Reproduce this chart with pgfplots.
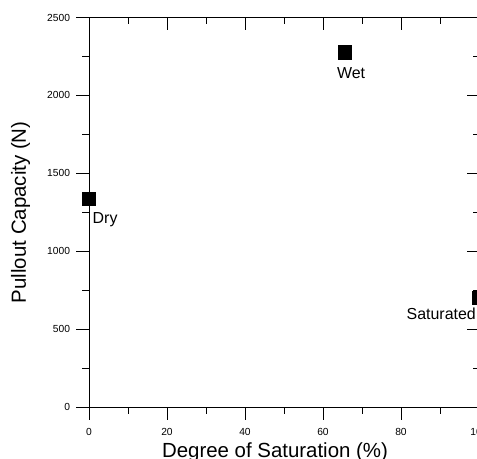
\documentclass[border=0pt]{standalone}
\usepackage{pgfplots}
\pgfplotsset{compat=1.18}
\usepackage{fontspec}
\setmainfont{Liberation Sans}
\begin{document}
\begin{tikzpicture}
\pgfplotsset{
  common/.style={
    scale only axis, width=390bp, height=389.5bp,
    xmin=0, xmax=100, ymin=0, ymax=2500,
    xtick={0,20,...,100}, ytick={0,500,...,2500},
    minor x tick num=1, minor y tick num=1,
    major tick length=12.5bp, minor tick length=6.5bp,
    every tick/.style={black, line width=0.8bp},
    axis line style={-, line width=0.8bp, black},
    clip=false,
  }
}
\begin{axis}[common,
  axis x line*=bottom, axis y line*=left, tick align=outside,
  /pgf/number format/assume math mode=true,
  /pgf/number format/1000 sep={},
  tick label style={font=\fontsize{10.3}{12}\selectfont},
  yticklabel style={xshift=-3bp},
  xticklabel style={yshift=-5bp},
  xlabel={Degree of Saturation (\%)},
  ylabel={Pullout Capacity (N)},
  xlabel style={at={(axis description cs:0.5,0)}, anchor=base, yshift=-50bp, xshift=-9bp, font=\fontsize{20.5}{24}\selectfont},
  ylabel style={at={(axis description cs:0,0.5)}, anchor=base, yshift=63bp, font=\fontsize{20.5}{24}\selectfont},
]
\addplot[only marks, mark=square*, mark size=6.6bp, black] coordinates {
  (0,1337) (65.6,2277) (100,700)
};
\node[anchor=north west, inner sep=0, font=\fontsize{16}{19}\selectfont] at (axis cs:0,1337) [xshift=3.5bp, yshift=-14bp] {Dry};
\node[anchor=north west, inner sep=0, font=\fontsize{16}{19}\selectfont] at (axis cs:65.6,2277) [xshift=-8bp, yshift=-15bp] {Wet};
\node[anchor=north east, inner sep=0, font=\fontsize{16}{19}\selectfont] at (axis cs:100,700) [xshift=-3bp, yshift=-10bp] {Saturated};
\coordinate (O) at (axis cs:0,0);
\end{axis}
\begin{axis}[common,
  axis x line*=top, axis y line*=right, tick align=inside,
  xticklabels={}, yticklabels={},
]
\end{axis}
\pgfresetboundingbox
\path[use as bounding box] ([shift={(-89bp,-52bp)}]O) rectangle ([shift={(388bp,407bp)}]O);
\end{tikzpicture}
\end{document}
